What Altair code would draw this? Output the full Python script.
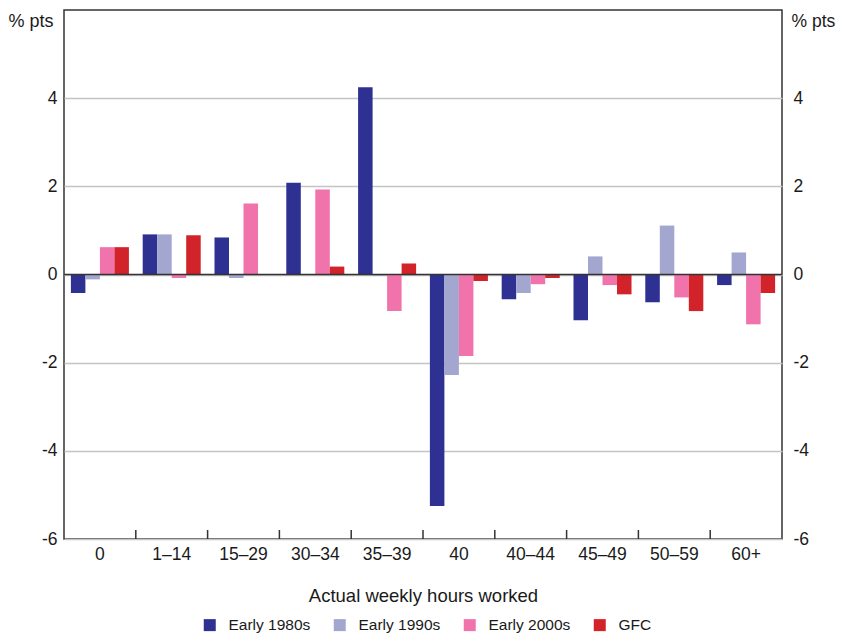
import altair as alt
import pandas as pd

categories = ["0", "1–14", "15–29", "30–34", "35–39", "40", "40–44", "45–49", "50–59", "60+"]
series = ["Early 1980s", "Early 1990s", "Early 2000s", "GFC"]
early_1980s = [-0.42, 0.91, 0.84, 2.08, 4.25, -5.25, -0.56, -1.04, -0.63, -0.24]
early_1990s = [-0.11, 0.91, -0.08, 0.0, -0.03, -2.28, -0.42, 0.41, 1.11, 0.50]
early_2000s = [0.62, -0.08, 1.61, 1.93, -0.83, -1.85, -0.22, -0.24, -0.52, -1.13]
gfc = [0.62, 0.89, 0.0, 0.18, 0.25, -0.15, -0.08, -0.45, -0.83, -0.42]
colors = ["#2E3192", "#A3A6CF", "#F173AC", "#D2232A"]
y_ticks = [-6, -4, -2, 0, 2, 4]

rows = []
for s, vals in zip(series, [early_1980s, early_1990s, early_2000s, gfc]):
    for c, v in zip(categories, vals):
        rows.append({"cat": c, "series": s, "value": v})
df = pd.DataFrame(rows)

FONT = "Liberation Sans"
TXT = "#1a1a1a"
W, H = 718, 529

xscale = alt.Scale(domain=categories, paddingInner=0, paddingOuter=0)
yscale = alt.Scale(domain=[-6, 6], nice=False, zero=False)

bars = alt.Chart(df).mark_bar().encode(
    x=alt.X("cat:N", scale=xscale, sort=categories,
            axis=alt.Axis(orient="bottom", domain=False, ticks=False, labelAngle=0,
                          labelPadding=6, labelFontSize=17.5, labelColor=TXT,
                          title="Actual weekly hours worked", titleFontSize=18.5,
                          titleFontWeight="normal", titleColor=TXT,
                          titleY=56, titleBaseline="middle")),
    xOffset=alt.XOffset("series:N", sort=series,
                        scale=alt.Scale(domain=series, paddingInner=0, paddingOuter=0.475)),
    y=alt.Y("value:Q", scale=yscale,
            axis=alt.Axis(orient="left", values=y_ticks, grid=True, gridColor="#C4C4C4",
                          gridWidth=1.5, domain=False, ticks=False, labelPadding=7,
                          labelFontSize=17.5, labelColor=TXT,
                          labelExpr="toString(datum.value)",
                          title="% pts", titleAngle=0, titleAlign="right",
                          titleBaseline="middle", titleX=-11, titleY=11,
                          titleFontSize=18, titleFontWeight="normal", titleColor=TXT)),
    color=alt.Color("series:N", sort=series,
                    scale=alt.Scale(domain=series, range=colors),
                    legend=alt.Legend(orient="none", direction="horizontal", title=None,
                                      legendX=138, legendY=607, symbolType="square",
                                      symbolSize=144, symbolStrokeWidth=0,
                                      symbolOpacity=1, labelFontSize=15.5,
                                      labelColor=TXT, columnPadding=21, labelOffset=11)),
)

zero_df = pd.DataFrame({"value": [0]})
zero = alt.Chart(zero_df).mark_rule(color="#333333", strokeWidth=1.5).encode(
    y=alt.Y("value:Q", scale=yscale,
            axis=alt.Axis(orient="right", values=y_ticks, grid=False, domain=False,
                          ticks=False, labelPadding=11, labelFontSize=17.5, labelColor=TXT,
                          labelExpr="toString(datum.value)",
                          title="% pts", titleAngle=0, titleAlign="left",
                          titleBaseline="middle", titleX=9, titleY=11,
                          titleFontSize=17.5, titleFontWeight="normal", titleColor=TXT)),
)

tick_df = pd.DataFrame({"cat": categories[1:]})
ticks = alt.Chart(tick_df).mark_rule(color="#333333", strokeWidth=1.5).encode(
    x=alt.X("cat:N", scale=xscale, bandPosition=0),
    y=alt.value(H),
    y2=alt.value(H - 9),
)

chart = alt.layer(bars, zero, ticks).resolve_axis(y="independent").properties(
    width=W, height=H,
    autosize=alt.AutoSizeParams(type="none"),
    padding={"left": 56, "top": 2, "right": 54, "bottom": 100},
).configure(font=FONT).configure_view(stroke="#333333", strokeWidth=1.5)

chart.save("out.html", embed_options={"renderer": "svg", "actions": False})
